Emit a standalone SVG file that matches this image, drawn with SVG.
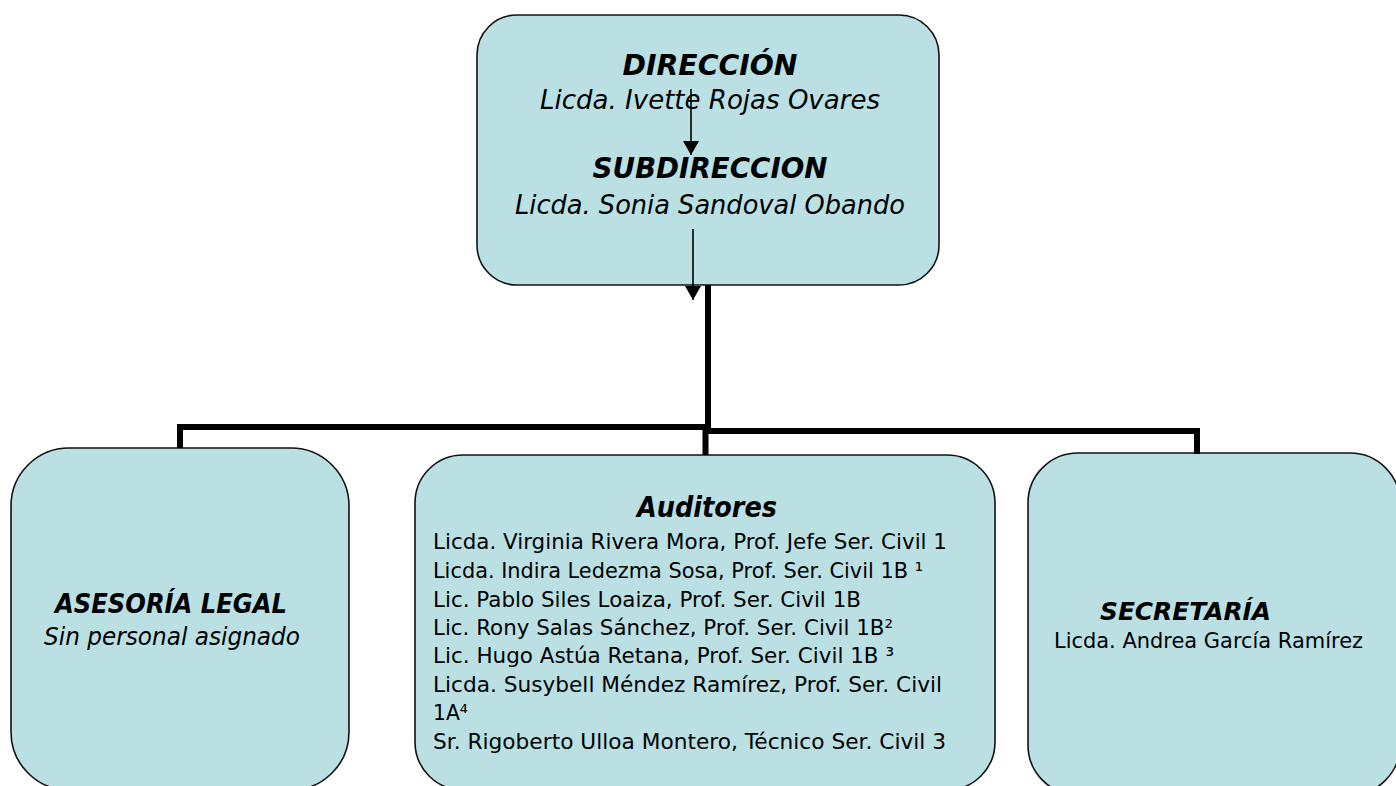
<svg xmlns="http://www.w3.org/2000/svg" width="1396" height="786" viewBox="0 0 1396 786">
<style>
.box{fill:#BAE0E4;stroke:#111;stroke-width:1.6}
.hd{font-family:"DejaVu Sans","Liberation Sans",sans-serif;font-weight:bold;font-style:italic;fill:#000}
.it{font-family:"DejaVu Sans","Liberation Sans",sans-serif;font-style:italic;fill:#000}
.tx{font-family:"DejaVu Sans","Liberation Sans",sans-serif;font-size:22px;fill:#000}
.thick{fill:none;stroke:#000;stroke-width:6;stroke-linecap:square}
.thin{fill:none;stroke:#000;stroke-width:1.6}
</style>
<defs>
<marker id="ah" markerUnits="userSpaceOnUse" markerWidth="18" markerHeight="16" refX="14" refY="8" orient="auto">
<path d="M0,0 L14,8 L0,16 Z" fill="#000"/>
</marker>
</defs>
<rect width="1396" height="786" fill="#fff"/>

<g id="direccion">
<rect class="box" x="477" y="15" width="462" height="270" rx="40" ry="40"/>
<text class="hd" x="710" y="75" font-size="28" text-anchor="middle" textLength="175" lengthAdjust="spacingAndGlyphs">DIRECCIÓN</text>
<text class="it" x="710" y="109" font-size="27" text-anchor="middle" textLength="340" lengthAdjust="spacingAndGlyphs">Licda. Ivette Rojas Ovares</text>
<text class="hd" x="710" y="178" font-size="28" text-anchor="middle" textLength="235" lengthAdjust="spacingAndGlyphs">SUBDIRECCION</text>
<text class="it" x="710" y="214" font-size="27" text-anchor="middle" textLength="390" lengthAdjust="spacingAndGlyphs">Licda. Sonia Sandoval Obando</text>
</g>

<g id="asesoria">
<rect class="box" x="11" y="448" width="338" height="342" rx="58" ry="58"/>
<text class="hd" x="55" y="613" font-size="26" textLength="232" lengthAdjust="spacingAndGlyphs">ASESORÍA LEGAL</text>
<text class="it" x="44" y="645" font-size="25" textLength="256" lengthAdjust="spacingAndGlyphs">Sin personal asignado</text>
</g>

<g id="auditores">
<rect class="box" x="415" y="455" width="580" height="335" rx="48" ry="48"/>
<text class="hd" x="707" y="517" font-size="28" text-anchor="middle" textLength="140" lengthAdjust="spacingAndGlyphs">Auditores</text>
<text class="tx" x="433" y="549" textLength="514" lengthAdjust="spacingAndGlyphs">Licda. Virginia Rivera Mora, Prof. Jefe Ser. Civil 1</text>
<text class="tx" x="433" y="578" textLength="490" lengthAdjust="spacingAndGlyphs">Licda. Indira Ledezma Sosa, Prof. Ser. Civil 1B ¹</text>
<text class="tx" x="433" y="607" textLength="428" lengthAdjust="spacingAndGlyphs">Lic. Pablo Siles Loaiza, Prof. Ser. Civil 1B</text>
<text class="tx" x="433" y="635" textLength="460" lengthAdjust="spacingAndGlyphs">Lic. Rony Salas Sánchez, Prof. Ser. Civil 1B²</text>
<text class="tx" x="433" y="663" textLength="461" lengthAdjust="spacingAndGlyphs">Lic. Hugo Astúa Retana, Prof. Ser. Civil 1B ³</text>
<text class="tx" x="433" y="692" textLength="509" lengthAdjust="spacingAndGlyphs">Licda. Susybell Méndez Ramírez, Prof. Ser. Civil</text>
<text class="tx" x="433" y="720" textLength="35" lengthAdjust="spacingAndGlyphs">1A⁴</text>
<text class="tx" x="433" y="749" textLength="513" lengthAdjust="spacingAndGlyphs">Sr. Rigoberto Ulloa Montero, Técnico Ser. Civil 3</text>
</g>

<g id="secretaria">
<rect class="box" x="1028" y="453" width="372" height="342" rx="50" ry="50"/>
<text class="hd" x="1100" y="620" font-size="24" textLength="171" lengthAdjust="spacingAndGlyphs">SECRETARÍA</text>
<text class="tx" x="1054" y="648" textLength="309" lengthAdjust="spacingAndGlyphs">Licda. Andrea García Ramírez</text>
</g>

<g id="connectors">
<path class="thick" d="M708,288 V427 H180 V445"/>
<path class="thick" d="M708,288 V431 H1197 V451"/>
<path class="thick" d="M705.5,427 V452"/>
<line class="thin" x1="691" y1="89" x2="691" y2="155" marker-end="url(#ah)"/>
<line class="thin" x1="693" y1="229" x2="693" y2="300" marker-end="url(#ah)"/>
</g>
</svg>
